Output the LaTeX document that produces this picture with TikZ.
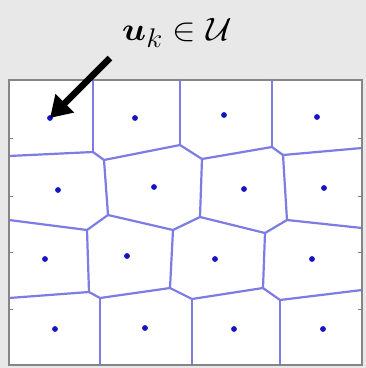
\documentclass[tikz,border=0pt]{standalone}
\usepackage{graphicx}
\usepackage{amsmath,bm}
\usetikzlibrary{arrows.meta}
\definecolor{bgc}{HTML}{E8E8E8}
\definecolor{vor}{HTML}{7C7CE4}
\definecolor{seedc}{HTML}{1414C0}
\definecolor{framec}{HTML}{858585}
\begin{document}
\begin{tikzpicture}[x=1pt,y=-1pt,
  cell/.style={draw=vor, line width=2.2pt, line join=round, line cap=round},
  seed/.style={fill=seedc},
  frame/.style={draw=framec, line width=2.6pt},
  tick/.style={draw=framec, line width=1pt},
  ptr/.style={line width=6.5pt, -{Triangle[length=21pt,width=25pt]}},
  lbl/.style={font=\Huge, inner sep=0pt}]
\fill[bgc] (0,0) rectangle (366,368);
\useasboundingbox (0,0) rectangle (366,368);
\fill[white] (9,80) rectangle (362,365);
% Voronoi vertices
\coordinate (A) at (93,152);  \coordinate (B) at (104,160);
\coordinate (C) at (180,145); \coordinate (D) at (202,159);
\coordinate (E) at (272,147); \coordinate (F) at (283,155);
\coordinate (G) at (87,230);  \coordinate (H) at (108,215);
\coordinate (I) at (173,230); \coordinate (J) at (200,217);
\coordinate (K) at (265,233); \coordinate (L) at (287,220);
\coordinate (M) at (89,292);  \coordinate (N) at (100,298);
\coordinate (O) at (170,288); \coordinate (P) at (192,299);
\coordinate (Q) at (263,288); \coordinate (R) at (280,300);
% border ends
\coordinate (tA) at (93,80); \coordinate (tC) at (180,80); \coordinate (tE) at (272,80);
\coordinate (lA) at (9,156); \coordinate (lG) at (9,220); \coordinate (lM) at (9,298);
\coordinate (rF) at (362,148); \coordinate (rL) at (362,228); \coordinate (rR) at (362,290);
\coordinate (bN) at (100,365); \coordinate (bP) at (192,365); \coordinate (bR) at (280,365);
% edges
\draw[cell] (tA) -- (A) (tC) -- (C) (tE) -- (E);
\draw[cell] (lA) -- (A) (lG) -- (G) (lM) -- (M);
\draw[cell] (F) -- (rF) (L) -- (rL) (R) -- (rR);
\draw[cell] (N) -- (bN) (P) -- (bP) (R) -- (bR);
\draw[cell] (A) -- (B) -- (C) -- (D) -- (E) -- (F);
\draw[cell] (B) -- (H) (D) -- (J) (F) -- (L);
\draw[cell] (G) -- (H) -- (I) -- (J) -- (K) -- (L);
\draw[cell] (G) -- (M) (I) -- (O) (K) -- (Q);
\draw[cell] (M) -- (N) -- (O) -- (P) -- (Q) -- (R);
% seeds
\foreach \n/\x/\y in {s1/50/118, s2/135/118, s3/224/115, s4/317/117,
                      s5/58/190, s6/154/187, s7/244/189, s8/324/188,
                      s9/45/259, s10/127/256, s11/215/259, s12/312/259,
                      s13/55/329, s14/145/328, s15/234/329, s16/323/329}
  {\coordinate (\n) at (\x,\y); \fill[seed] (\n) circle (2.9pt);}
% frame
\draw[frame] (9,80) rectangle (362,365);
\foreach \y in {138,196,252,309}
  {\draw[tick] (9,\y) -- (13,\y); \draw[tick] (358,\y) -- (362,\y);}
% label and pointer
\node[lbl] (lab) at (177,33) {\scalebox{1.42}[1.3]{$\boldsymbol{u}_k \in \mathcal{U}$}};
\coordinate (tail) at (110,58);
\draw[ptr] (tail) -- (s1);
\end{tikzpicture}
\end{document}
